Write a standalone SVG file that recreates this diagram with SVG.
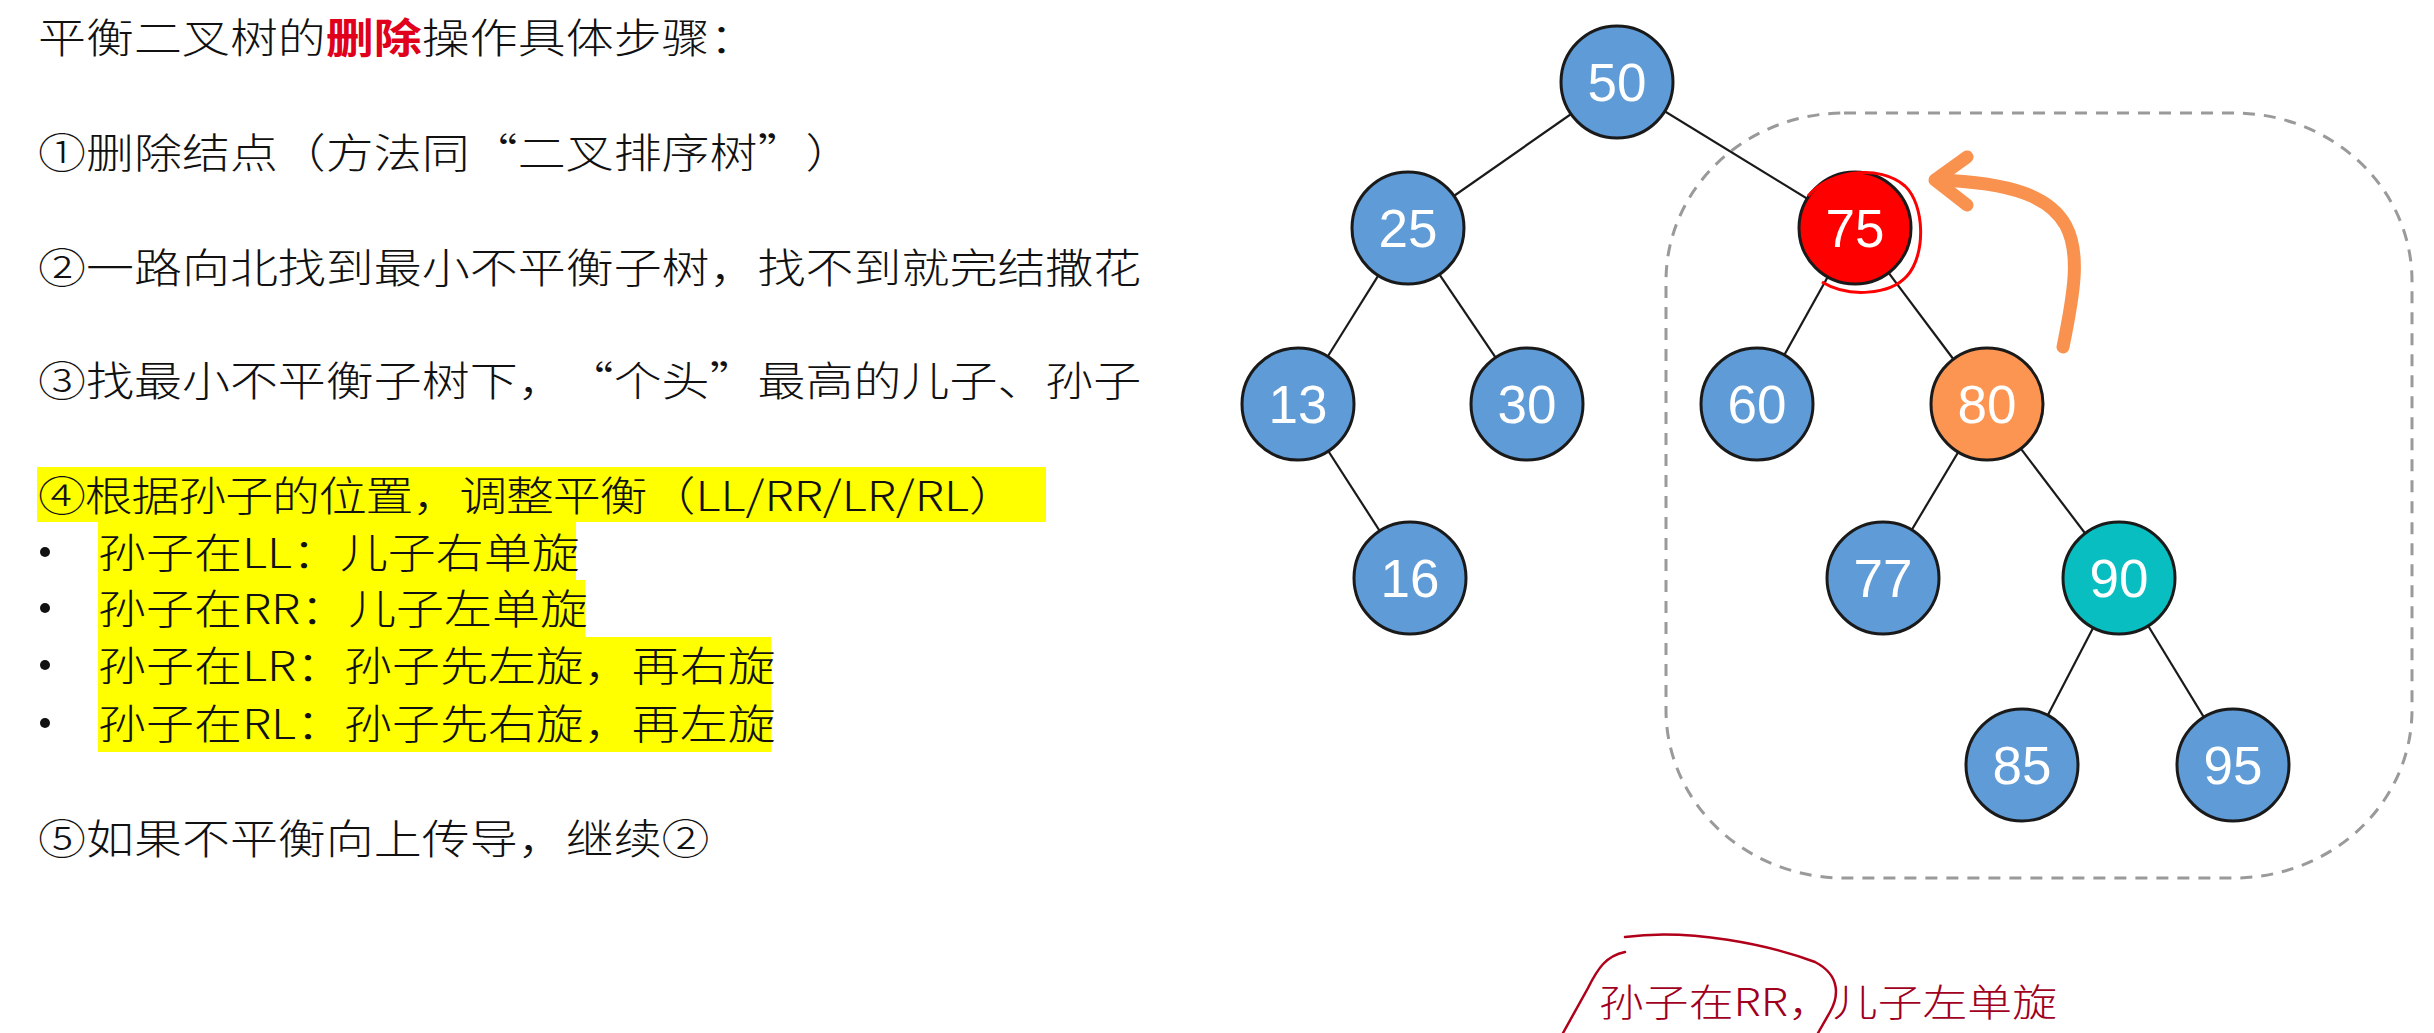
<svg xmlns="http://www.w3.org/2000/svg" width="2434" height="1033" viewBox="0 0 2434 1033">
<style>
.t{font-family:"Noto Sans CJK SC","Noto Sans",sans-serif;font-size:41px;font-weight:300;fill:#111}
.q{font-feature-settings:"fwid" 1}
.hl{fill:#FFFF00}
.edge{stroke:#1a1a1a;stroke-width:2.2}
.nd{stroke:#1a1a1a;stroke-width:3}
.blue{fill:#5F9BD6}
.num{font-family:"Liberation Sans",Arial,sans-serif;font-size:53px;fill:#fff;text-anchor:middle}
</style>
<rect width="2434" height="1033" fill="#fff"/>
<g id="highlights">
<rect class="hl" x="37" y="467" width="1009" height="55"/>
<rect class="hl" x="98" y="522" width="478" height="58"/>
<rect class="hl" x="98" y="580" width="487" height="57"/>
<rect class="hl" x="98" y="637" width="673" height="58"/>
<rect class="hl" x="98" y="695" width="673" height="57"/>
</g>
<g id="bullets" fill="#111">
<circle cx="45" cy="552" r="5"/>
<circle cx="45" cy="608" r="5"/>
<circle cx="45" cy="665" r="5"/>
<circle cx="45" cy="723" r="5"/>
</g>
<g id="steps">
<g transform="translate(38,0) scale(1.17,1)">
<text class="t" x="0 41 82 123 164 205 246 287 328 369 410 451 492 533 574" y="53">平衡二叉树的<tspan fill="#E0001B" font-weight="700">删除</tspan>操作具体步骤：</text>
<text class="t" x="0 41 82 123 164 205 246 287 328 369 410 451 492 533 574 615 656" y="168">①删除结点（方法同<tspan class="q">“</tspan>二叉排序树<tspan class="q">”</tspan>）</text>
<text class="t" x="0 41 82 123 164 205 246 287 328 369 410 451 492 533 574 615 656 697 738 779 820 861 902" y="283">②一路向北找到最小不平衡子树，找不到就完结撒花</text>
<text class="t" x="0 41 82 123 164 205 246 287 328 369 410 451 492 533 574 615 656 697 738 779 820 861 902" y="396">③找最小不平衡子树下，<tspan class="q">“</tspan>个头<tspan class="q">”</tspan>最高的儿子、孙子</text>
<text class="t" x="0 40 80 120 160 200 240 280 320 360 400 440 480" y="511">④根据孙子的位置，调整平衡（LL/RR/LR/RL）</text>
<text class="t" x="51.3" y="568">孙子在LL：儿子右单旋</text>
<text class="t" x="51.3" y="624">孙子在RR：儿子左单旋</text>
<text class="t" x="51.3" y="681">孙子在LR：孙子先左旋，再右旋</text>
<text class="t" x="51.3" y="739">孙子在RL：孙子先右旋，再左旋</text>
<text class="t" x="0 41 82 123 164 205 246 287 328 369 410 451 492 533" y="854">⑤如果不平衡向上传导，继续②</text>
</g>
</g>
<rect id="subtree-box" x="1666" y="113" width="746" height="765" rx="178" ry="168" fill="none" stroke="#9a9a9a" stroke-width="3" stroke-dasharray="12 9"/>
<g id="edges">
<line class="edge" x1="1617" y1="82" x2="1408" y2="228"/>
<line class="edge" x1="1617" y1="82" x2="1855" y2="228"/>
<line class="edge" x1="1408" y1="228" x2="1298" y2="404"/>
<line class="edge" x1="1408" y1="228" x2="1527" y2="404"/>
<line class="edge" x1="1298" y1="404" x2="1410" y2="578"/>
<line class="edge" x1="1855" y1="228" x2="1757" y2="404"/>
<line class="edge" x1="1855" y1="228" x2="1987" y2="404"/>
<line class="edge" x1="1987" y1="404" x2="1883" y2="578"/>
<line class="edge" x1="1987" y1="404" x2="2119" y2="578"/>
<line class="edge" x1="2119" y1="578" x2="2022" y2="765"/>
<line class="edge" x1="2119" y1="578" x2="2233" y2="765"/>
</g>
<g id="node-50"><circle class="nd blue" cx="1617" cy="82" r="56"/><text class="num" x="1617" y="101">50</text></g>
<g id="node-25"><circle class="nd blue" cx="1408" cy="228" r="56"/><text class="num" x="1408" y="247">25</text></g>
<g id="node-75"><circle class="nd" fill="#FF0000" cx="1855" cy="228" r="56"/><path d="M1808,196 C1830,170 1880,164 1905,186 C1925,205 1926,255 1907,276 C1890,295 1848,298 1822,282" fill="none" stroke="#FF0000" stroke-width="3"/><text class="num" x="1855" y="247">75</text></g>
<g id="node-13"><circle class="nd blue" cx="1298" cy="404" r="56"/><text class="num" x="1298" y="423">13</text></g>
<g id="node-30"><circle class="nd blue" cx="1527" cy="404" r="56"/><text class="num" x="1527" y="423">30</text></g>
<g id="node-60"><circle class="nd blue" cx="1757" cy="404" r="56"/><text class="num" x="1757" y="423">60</text></g>
<g id="node-80"><circle class="nd" fill="#FD9552" cx="1987" cy="404" r="56"/><text class="num" x="1987" y="423">80</text></g>
<g id="node-16"><circle class="nd blue" cx="1410" cy="578" r="56"/><text class="num" x="1410" y="597">16</text></g>
<g id="node-77"><circle class="nd blue" cx="1883" cy="578" r="56"/><text class="num" x="1883" y="597">77</text></g>
<g id="node-90"><circle class="nd" fill="#08BEC0" cx="2119" cy="578" r="56"/><text class="num" x="2119" y="597">90</text></g>
<g id="node-85"><circle class="nd blue" cx="2022" cy="765" r="56"/><text class="num" x="2022" y="784">85</text></g>
<g id="node-95"><circle class="nd blue" cx="2233" cy="765" r="56"/><text class="num" x="2233" y="784">95</text></g>
<g id="rotate-arrow" fill="none" stroke="#F9924F" stroke-width="13" stroke-linecap="round" stroke-linejoin="round">
<path d="M2063,347 C2085,240 2090,185 1937,180"/>
<path d="M1967,157 L1935,180 L1967,205"/>
</g>
<g id="annotation">
<path d="M1625,952 C1606,956 1598,968 1588,988 L1563,1033" fill="none" stroke="#B0001A" stroke-width="2.5" stroke-linecap="round"/>
<path d="M1625,937 C1690,928 1770,945 1815,962 C1842,976 1838,998 1830,1012 L1818,1033" fill="none" stroke="#B0001A" stroke-width="2.5" stroke-linecap="round"/>
<text x="1599" y="1016" textLength="458" lengthAdjust="spacingAndGlyphs" style="font-family:'Noto Sans CJK SC','Noto Sans',sans-serif;font-size:38px;font-weight:300;fill:#A0001E">孙子在RR，儿子左单旋</text>
</g>
</svg>
